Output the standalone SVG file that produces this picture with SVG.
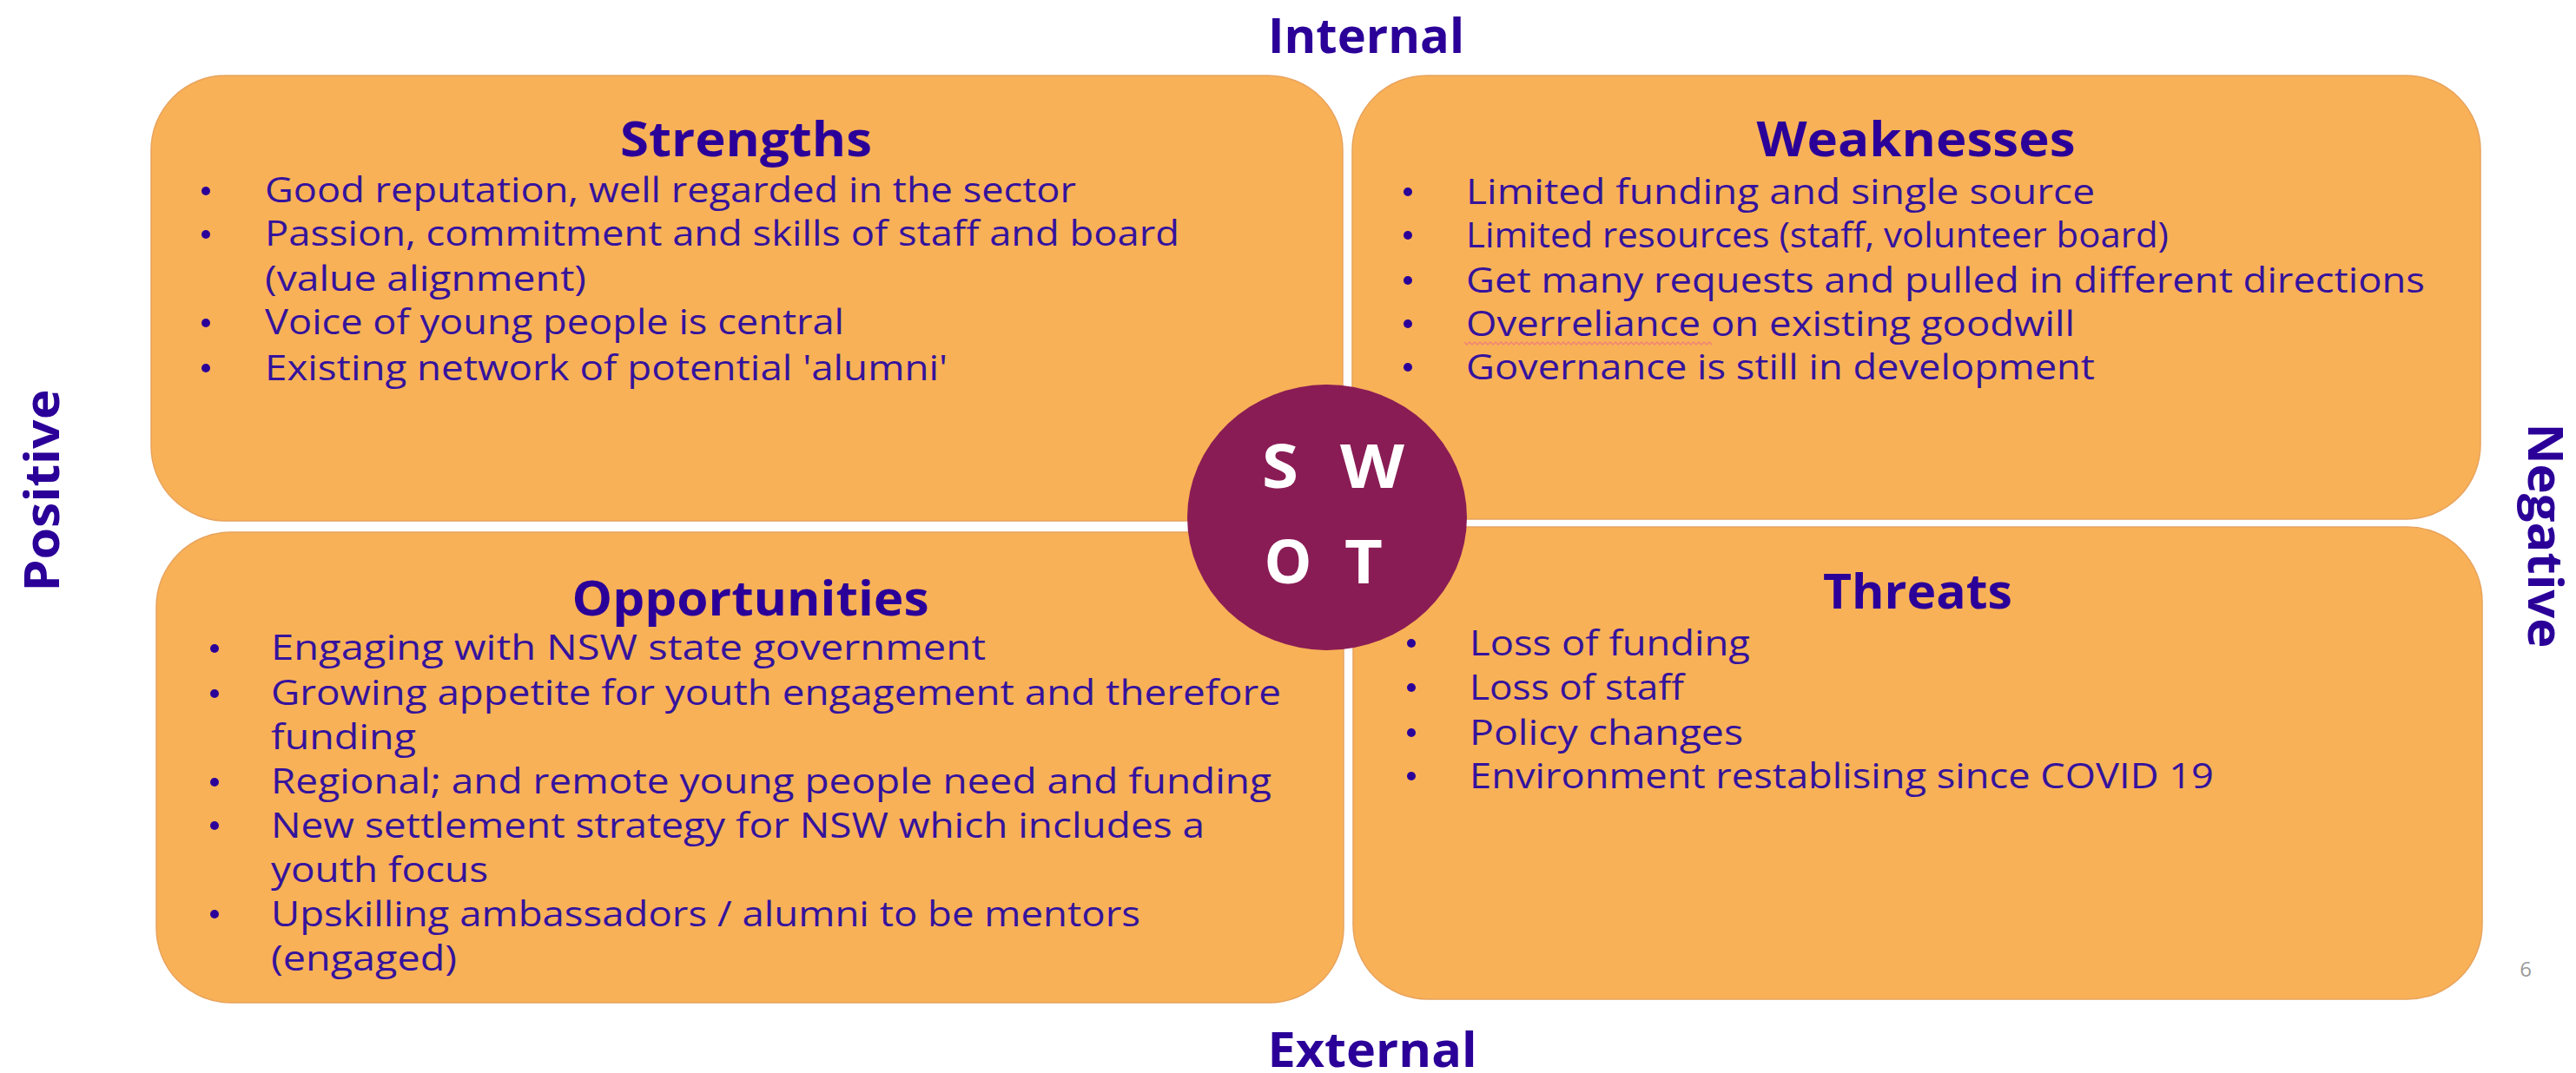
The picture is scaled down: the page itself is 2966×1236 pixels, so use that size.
<svg xmlns="http://www.w3.org/2000/svg" width="2966" height="1236" viewBox="0 0 2966 1236">
<style>
.box{fill:#F8B157;stroke:#E8A35C;stroke-width:1.5}
.ttl{font-family:"Open Sans","Liberation Sans",sans-serif;font-weight:700;font-size:55px;fill:#2B0098;text-anchor:middle}
.axis{font-family:"Open Sans","Liberation Sans",sans-serif;font-weight:700;font-size:56px;fill:#2B0098;text-anchor:middle}
.body{font-family:"Open Sans","Liberation Sans",sans-serif;font-size:41px;fill:#35139C}
.dot{fill:#2B0098}
.swot{font-family:"Open Sans","Liberation Sans",sans-serif;font-weight:700;font-size:70px;fill:#FFFFFF;text-anchor:middle}
</style>
<rect width="2966" height="1236" fill="#FFFFFF"/>
<g id="axes">
<text class="axis" x="1573" y="61" textLength="226" lengthAdjust="spacingAndGlyphs">Internal</text>
<text class="axis" x="1580" y="1229" textLength="241" lengthAdjust="spacingAndGlyphs">External</text>
<text class="axis" transform="translate(68,565) rotate(-90)" x="0" y="0" textLength="233" lengthAdjust="spacingAndGlyphs">Positive</text>
<text class="axis" transform="translate(2911,617) rotate(90)" x="0" y="0" textLength="259" lengthAdjust="spacingAndGlyphs">Negative</text>
</g>
<g id="strengths">
<rect class="box" x="174" y="87" width="1372" height="513" rx="86" ry="86"/>
<text class="ttl" x="859" y="180" textLength="290" lengthAdjust="spacingAndGlyphs">Strengths</text>
<circle class="dot" cx="237" cy="220" r="5"/>
<circle class="dot" cx="237" cy="270" r="5"/>
<circle class="dot" cx="237" cy="372" r="5"/>
<circle class="dot" cx="237" cy="424" r="5"/>
<text class="body" x="305" y="233" textLength="934" lengthAdjust="spacingAndGlyphs">Good reputation, well regarded in the sector</text>
<text class="body" x="305" y="283" textLength="1053" lengthAdjust="spacingAndGlyphs">Passion, commitment and skills of staff and board</text>
<text class="body" x="305" y="335" textLength="370" lengthAdjust="spacingAndGlyphs">(value alignment)</text>
<text class="body" x="305" y="385" textLength="667" lengthAdjust="spacingAndGlyphs">Voice of young people is central</text>
<text class="body" x="305" y="438" textLength="786" lengthAdjust="spacingAndGlyphs">Existing network of potential 'alumni'</text>
</g>
<g id="weaknesses">
<rect class="box" x="1557" y="87" width="1299" height="511" rx="86" ry="86"/>
<text class="ttl" x="2206" y="180" textLength="367" lengthAdjust="spacingAndGlyphs">Weaknesses</text>
<circle class="dot" cx="1621" cy="221" r="5"/>
<circle class="dot" cx="1621" cy="271" r="5"/>
<circle class="dot" cx="1621" cy="323" r="5"/>
<circle class="dot" cx="1621" cy="373" r="5"/>
<circle class="dot" cx="1621" cy="423" r="5"/>
<text class="body" x="1688" y="235" textLength="724" lengthAdjust="spacingAndGlyphs">Limited funding and single source</text>
<text class="body" x="1688" y="285" textLength="809" lengthAdjust="spacingAndGlyphs">Limited resources (staff, volunteer board)</text>
<text class="body" x="1688" y="337" textLength="1104" lengthAdjust="spacingAndGlyphs">Get many requests and pulled in different directions</text>
<text class="body" x="1688" y="387" textLength="701" lengthAdjust="spacingAndGlyphs">Overreliance on existing goodwill</text>
<path d="M1686 394 l3 3 l3 -3 l3 3 l3 -3 l3 3 l3 -3 l3 3 l3 -3 l3 3 l3 -3 l3 3 l3 -3 l3 3 l3 -3 l3 3 l3 -3 l3 3 l3 -3 l3 3 l3 -3 l3 3 l3 -3 l3 3 l3 -3 l3 3 l3 -3 l3 3 l3 -3 l3 3 l3 -3 l3 3 l3 -3 l3 3 l3 -3 l3 3 l3 -3 l3 3 l3 -3 l3 3 l3 -3 l3 3 l3 -3 l3 3 l3 -3 l3 3 l3 -3 l3 3 l3 -3 l3 3 l3 -3 l3 3 l3 -3 l3 3 l3 -3 l3 3 l3 -3 l3 3 l3 -3 l3 3 l3 -3 l3 3 l3 -3 l3 3 l3 -3 l3 3 l3 -3 l3 3 l3 -3 l3 3 l3 -3 l3 3 l3 -3 l3 3 l3 -3 l3 3 l3 -3 l3 3 l3 -3 l3 3 l3 -3 l3 3 l3 -3 l3 3 l3 -3 l3 3 l3 -3 l3 3 l3 -3 l3 3 l3 -3 l3 3 l3 -3 l3 3 l3 -3 l3 3" fill="none" stroke="#F0807A" stroke-width="1.3"/>
<text class="body" x="1688" y="437" textLength="724" lengthAdjust="spacingAndGlyphs">Governance is still in development</text>
</g>
<g id="opportunities">
<rect class="box" x="180" y="613" width="1367" height="542" rx="86" ry="86"/>
<text class="ttl" x="864" y="709" textLength="411" lengthAdjust="spacingAndGlyphs">Opportunities</text>
<circle class="dot" cx="247" cy="747" r="5"/>
<circle class="dot" cx="247" cy="799" r="5"/>
<circle class="dot" cx="247" cy="901" r="5"/>
<circle class="dot" cx="247" cy="951" r="5"/>
<circle class="dot" cx="247" cy="1053" r="5"/>
<text class="body" x="312" y="760" textLength="823" lengthAdjust="spacingAndGlyphs">Engaging with NSW state government</text>
<text class="body" x="312" y="812" textLength="1163" lengthAdjust="spacingAndGlyphs">Growing appetite for youth engagement and therefore</text>
<text class="body" x="312" y="863" textLength="167" lengthAdjust="spacingAndGlyphs">funding</text>
<text class="body" x="312" y="914" textLength="1152" lengthAdjust="spacingAndGlyphs">Regional; and remote young people need and funding</text>
<text class="body" x="312" y="965" textLength="1075" lengthAdjust="spacingAndGlyphs">New settlement strategy for NSW which includes a</text>
<text class="body" x="312" y="1016" textLength="250" lengthAdjust="spacingAndGlyphs">youth focus</text>
<text class="body" x="312" y="1067" textLength="1001" lengthAdjust="spacingAndGlyphs">Upskilling ambassadors / alumni to be mentors</text>
<text class="body" x="312" y="1118" textLength="214" lengthAdjust="spacingAndGlyphs">(engaged)</text>
</g>
<g id="threats">
<rect class="box" x="1558" y="607" width="1300" height="544" rx="86" ry="86"/>
<text class="ttl" x="2208" y="701" textLength="218" lengthAdjust="spacingAndGlyphs">Threats</text>
<circle class="dot" cx="1625" cy="741" r="5"/>
<circle class="dot" cx="1625" cy="792" r="5"/>
<circle class="dot" cx="1625" cy="844" r="5"/>
<circle class="dot" cx="1625" cy="894" r="5"/>
<text class="body" x="1692" y="755" textLength="323" lengthAdjust="spacingAndGlyphs">Loss of funding</text>
<text class="body" x="1692" y="806" textLength="247" lengthAdjust="spacingAndGlyphs">Loss of staff</text>
<text class="body" x="1692" y="858" textLength="315" lengthAdjust="spacingAndGlyphs">Policy changes</text>
<text class="body" x="1692" y="908" textLength="857" lengthAdjust="spacingAndGlyphs">Environment restablising since COVID 19</text>
</g>
<g id="swot">
<ellipse cx="1528" cy="596" rx="161" ry="153" fill="#8A1C55"/>
<text class="swot" x="1474" y="562" textLength="42" lengthAdjust="spacingAndGlyphs">S</text>
<text class="swot" x="1580" y="562" textLength="74" lengthAdjust="spacingAndGlyphs">W</text>
<text class="swot" x="1483" y="672" textLength="55" lengthAdjust="spacingAndGlyphs">O</text>
<text class="swot" x="1570" y="672" textLength="44" lengthAdjust="spacingAndGlyphs">T</text>
</g>
<g id="page-number">
<text x="2908" y="1125" font-family="Open Sans, Liberation Sans, sans-serif" font-size="24" fill="#9A9A9A" text-anchor="middle">6</text>
</g>
<g id="connectors"></g>
</svg>
